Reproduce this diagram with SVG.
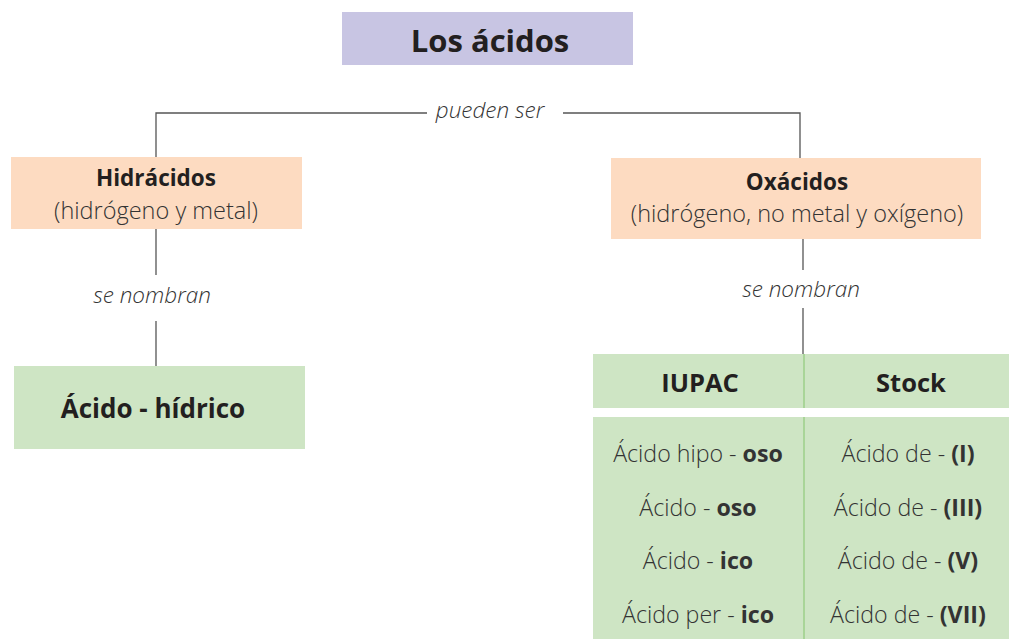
<svg xmlns="http://www.w3.org/2000/svg" width="1009" height="639" viewBox="0 0 1009 639">
<style>
text{font-family:"Open Sans","Noto Sans",sans-serif;fill:#231f20;text-anchor:middle}
.b{font-weight:bold}
.i{font-style:italic;font-weight:300;font-size:22.5px;fill:#333}
.n{font-size:23.5px;font-weight:300;fill:#333}
.r{font-size:23.2px;font-weight:300;fill:#333}
.ln{stroke:#555;stroke-width:1.3;fill:none}
.pur{fill:#c8c5e3}.pea{fill:#fddbc1}.grn{fill:#cee5c4}
.div{stroke:#9ccf8a;stroke-width:1.5}
</style>
<rect width="1009" height="639" fill="#fff"/>
<g id="connectors">
<polyline class="ln" points="156,157 156,113 427,113"/>
<polyline class="ln" points="563,113 800,113 800,158"/>
<text class="i" x="490" y="118">pueden ser</text>
<line class="ln" x1="156" y1="229" x2="156" y2="275"/>
<text class="i" x="152" y="303">se nombran</text>
<line class="ln" x1="156" y1="321" x2="156" y2="366"/>
<line class="ln" x1="803" y1="239" x2="803" y2="270"/>
<text class="i" x="801" y="297">se nombran</text>
<line class="ln" x1="803" y1="308" x2="803" y2="354"/>
</g>
<g id="title">
<rect class="pur" x="342" y="12" width="291" height="53"/>
<text class="b" x="490" y="52" font-size="31">Los ácidos</text>
</g>
<g id="hidracidos">
<rect class="pea" x="11" y="157" width="291" height="72"/>
<text class="b" x="156" y="186" font-size="22.5">Hidrácidos</text>
<text class="n" x="156" y="219">(hidrógeno y metal)</text>
</g>
<g id="hidrico">
<rect class="grn" x="14" y="366" width="291" height="83"/>
<text class="b" x="153" y="418" font-size="26">Ácido - hídrico</text>
</g>
<g id="oxacidos">
<rect class="pea" x="611" y="158" width="370" height="81"/>
<text class="b" x="797" y="190" font-size="22.5">Oxácidos</text>
<text class="n" x="797" y="222">(hidrógeno, no metal y oxígeno)</text>
</g>
<g id="header">
<rect class="grn" x="593" y="354" width="416" height="54"/>
<line class="div" x1="804" y1="354" x2="804" y2="408"/>
<text class="b" x="700" y="392" font-size="25.5">IUPAC</text>
<text class="b" x="911" y="392" font-size="25.5">Stock</text>
</g>
<g id="table">
<rect class="grn" x="593" y="417" width="416" height="222"/>
<line class="div" x1="804" y1="417" x2="804" y2="639"/>
<text class="r" x="698" y="462">Ácido hipo - <tspan class="b">oso</tspan></text>
<text class="r" x="698" y="516">Ácido - <tspan class="b">oso</tspan></text>
<text class="r" x="698" y="569">Ácido - <tspan class="b">ico</tspan></text>
<text class="r" x="698" y="623">Ácido per - <tspan class="b">ico</tspan></text>
<text class="r" x="908" y="462">Ácido de - <tspan class="b">(I)</tspan></text>
<text class="r" x="908" y="516">Ácido de - <tspan class="b">(III)</tspan></text>
<text class="r" x="908" y="569">Ácido de - <tspan class="b">(V)</tspan></text>
<text class="r" x="908" y="623">Ácido de - <tspan class="b">(VII)</tspan></text>
</g>
</svg>
